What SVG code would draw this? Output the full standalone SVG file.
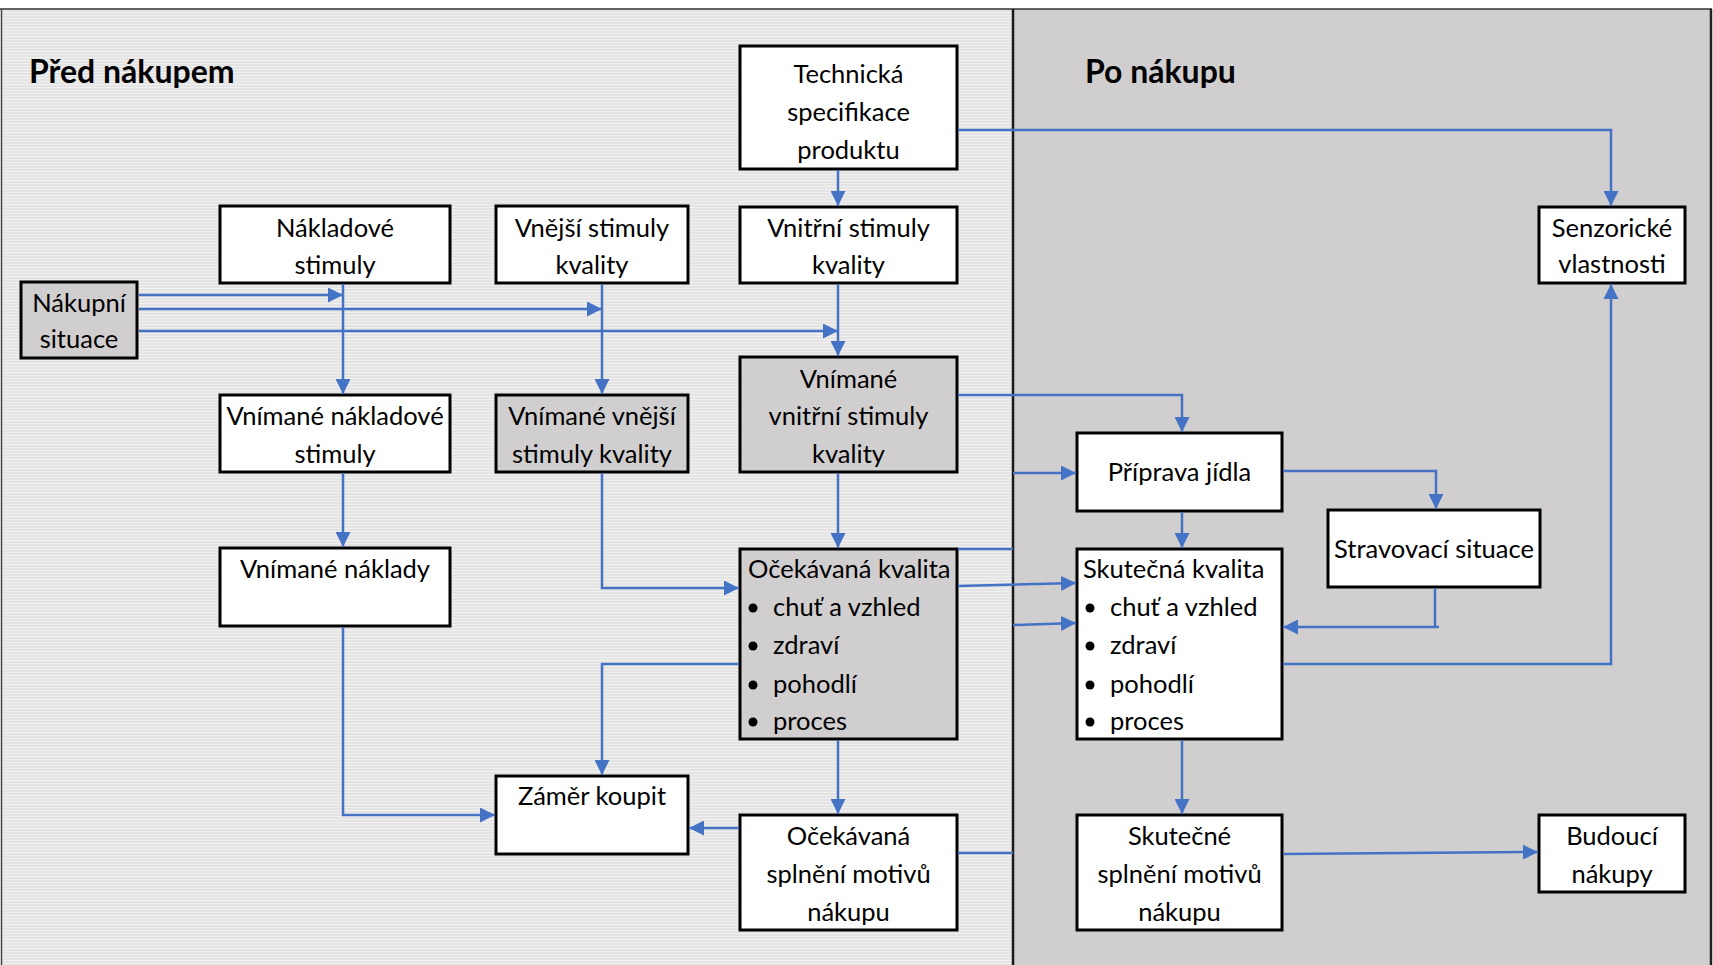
<svg xmlns="http://www.w3.org/2000/svg" width="1713" height="965" viewBox="0 0 1713 965">
<defs>
<pattern id="stripes" patternUnits="userSpaceOnUse" width="6" height="3">
<rect width="6" height="3" fill="#e4e4e4"/>
<rect width="6" height="1" fill="#f0f0f0"/>
</pattern>
<marker id="arr" markerUnits="userSpaceOnUse" markerWidth="15" markerHeight="15" refX="15" refY="7.5" orient="auto">
<path d="M0,0 L15,7.5 L0,15 z" fill="#4472c4"/>
</marker>
</defs>
<style>
.box{stroke:#000;stroke-width:3;fill:#fff}
.grey{fill:#d0cece}
.t{font-family:Lato,"Liberation Sans",sans-serif;font-size:25.5px;fill:#000}
.c{text-anchor:middle}
.h{font-family:Lato,"Liberation Sans",sans-serif;font-size:32px;font-weight:bold;fill:#000}
.con path{fill:none;stroke:#4472c4;stroke-width:2.5}
.dot{fill:#000}
</style>
<rect x="0" y="0" width="1713" height="965" fill="#fff"/>
<g id="panels">
<rect x="1.5" y="9" width="1011.5" height="956" fill="url(#stripes)"/>
<rect x="1013" y="9" width="698" height="956" fill="#d0cece"/>
<line x1="0" y1="9" x2="1712" y2="9" stroke="#333" stroke-width="1.5"/>
<line x1="1.5" y1="9" x2="1.5" y2="965" stroke="#444" stroke-width="1.5"/>
<line x1="1711" y1="9" x2="1711" y2="965" stroke="#222" stroke-width="2.5"/>
<line x1="1013" y1="9" x2="1013" y2="965" stroke="#1a1a1a" stroke-width="2.5"/>
<text class="h" x="29" y="83">Před nákupem</text>
<text class="h" x="1085" y="83">Po nákupu</text>
</g>
<g id="nakupni-situace">
<rect class="box grey" x="21" y="282" width="116" height="76"/>
<text class="t c" x="79" y="312">Nákupní</text>
<text class="t c" x="79" y="348">situace</text>
</g>
<g id="nakladove-stimuly">
<rect class="box" x="220" y="206" width="230" height="77"/>
<text class="t c" x="335" y="237">Nákladové</text>
<text class="t c" x="335" y="274">stimuly</text>
</g>
<g id="vnejsi-stimuly">
<rect class="box" x="496" y="206" width="192" height="77"/>
<text class="t c" x="592" y="237">Vnější stimuly</text>
<text class="t c" x="592" y="274">kvality</text>
</g>
<g id="technicka-specifikace">
<rect class="box" x="740" y="46" width="217" height="123"/>
<text class="t c" x="848.5" y="83">Technická</text>
<text class="t c" x="848.5" y="121">specifikace</text>
<text class="t c" x="848.5" y="159">produktu</text>
</g>
<g id="vnitrni-stimuly">
<rect class="box" x="740" y="207" width="217" height="76"/>
<text class="t c" x="848.5" y="237">Vnitřní stimuly</text>
<text class="t c" x="848.5" y="274">kvality</text>
</g>
<g id="senzoricke-vlastnosti">
<rect class="box" x="1539" y="207" width="146" height="76"/>
<text class="t c" x="1612" y="237">Senzorické</text>
<text class="t c" x="1612" y="273">vlastnosti</text>
</g>
<g id="vnimane-nakladove-stimuly">
<rect class="box" x="220" y="395" width="230" height="77"/>
<text class="t c" x="335" y="425">Vnímané nákladové</text>
<text class="t c" x="335" y="463">stimuly</text>
</g>
<g id="vnimane-vnejsi-stimuly">
<rect class="box grey" x="496" y="395" width="192" height="77"/>
<text class="t c" x="592" y="425">Vnímané vnější</text>
<text class="t c" x="592" y="463">stimuly kvality</text>
</g>
<g id="vnimane-vnitrni-stimuly">
<rect class="box grey" x="740" y="357" width="217" height="115"/>
<text class="t c" x="848.5" y="388">Vnímané</text>
<text class="t c" x="848.5" y="425">vnitřní stimuly</text>
<text class="t c" x="848.5" y="463">kvality</text>
</g>
<g id="vnimane-naklady">
<rect class="box" x="220" y="548" width="230" height="78"/>
<text class="t c" x="335" y="578">Vnímané náklady</text>
</g>
<g id="ocekavana-kvalita">
<rect class="box grey" x="740" y="549" width="217" height="190"/>
<text class="t" x="748" y="578">Očekávaná kvalita</text>
<circle class="dot" cx="753" cy="608" r="4.5"/>
<circle class="dot" cx="753" cy="646" r="4.5"/>
<circle class="dot" cx="753" cy="685" r="4.5"/>
<circle class="dot" cx="753" cy="722" r="4.5"/>
<text class="t" x="773" y="616">chuť a vzhled</text>
<text class="t" x="773" y="654">zdraví</text>
<text class="t" x="773" y="693">pohodlí</text>
<text class="t" x="773" y="730">proces</text>
</g>
<g id="zamer-koupit">
<rect class="box" x="496" y="776" width="192" height="78"/>
<text class="t c" x="592" y="805">Záměr koupit</text>
</g>
<g id="ocekavana-splneni">
<rect class="box" x="740" y="815" width="217" height="115"/>
<text class="t c" x="848.5" y="845">Očekávaná</text>
<text class="t c" x="848.5" y="883">splnění motivů</text>
<text class="t c" x="848.5" y="921">nákupu</text>
</g>
<g id="priprava-jidla">
<rect class="box" x="1077" y="433" width="205" height="78"/>
<text class="t c" x="1179.5" y="481">Příprava jídla</text>
</g>
<g id="stravovaci-situace">
<rect class="box" x="1328" y="510" width="212" height="77"/>
<text class="t c" x="1434" y="558">Stravovací situace</text>
</g>
<g id="skutecna-kvalita">
<rect class="box" x="1077" y="549" width="205" height="190"/>
<text class="t" x="1083" y="578">Skutečná kvalita</text>
<circle class="dot" cx="1090" cy="608" r="4.5"/>
<circle class="dot" cx="1090" cy="646" r="4.5"/>
<circle class="dot" cx="1090" cy="685" r="4.5"/>
<circle class="dot" cx="1090" cy="722" r="4.5"/>
<text class="t" x="1110" y="616">chuť a vzhled</text>
<text class="t" x="1110" y="654">zdraví</text>
<text class="t" x="1110" y="693">pohodlí</text>
<text class="t" x="1110" y="730">proces</text>
</g>
<g id="skutecne-splneni">
<rect class="box" x="1077" y="815" width="205" height="115"/>
<text class="t c" x="1179.5" y="845">Skutečné</text>
<text class="t c" x="1179.5" y="883">splnění motivů</text>
<text class="t c" x="1179.5" y="921">nákupu</text>
</g>
<g id="budouci-nakupy">
<rect class="box" x="1539" y="815" width="146" height="77"/>
<text class="t c" x="1612" y="845">Budoucí</text>
<text class="t c" x="1612" y="883">nákupy</text>
</g>
<g id="connectors" class="con">
<path d="M139,295 H343" marker-end="url(#arr)"/>
<path d="M139,309 H602" marker-end="url(#arr)"/>
<path d="M139,331 H838" marker-end="url(#arr)"/>
<path d="M343,284 V394" marker-end="url(#arr)"/>
<path d="M602,284 V394" marker-end="url(#arr)"/>
<path d="M838,170 V206" marker-end="url(#arr)"/>
<path d="M838,284 V356" marker-end="url(#arr)"/>
<path d="M343,473 V547" marker-end="url(#arr)"/>
<path d="M343,627 V815 H495" marker-end="url(#arr)"/>
<path d="M602,473 V588 H739" marker-end="url(#arr)"/>
<path d="M739,664 H602 V775" marker-end="url(#arr)"/>
<path d="M838,473 V548" marker-end="url(#arr)"/>
<path d="M838,740 V814" marker-end="url(#arr)"/>
<path d="M739,828 H689" marker-end="url(#arr)"/>
<path d="M958,853 H1013"/>
<path d="M958,549 H1013"/>
<path d="M958,586 L1076,583" marker-end="url(#arr)"/>
<path d="M1013,625 L1076,623" marker-end="url(#arr)"/>
<path d="M1013,473 H1076" marker-end="url(#arr)"/>
<path d="M958,395 H1182 V432" marker-end="url(#arr)"/>
<path d="M1283,471 H1436 V509" marker-end="url(#arr)"/>
<path d="M1182,512 V548" marker-end="url(#arr)"/>
<path d="M1435,588 V627"/>
<path d="M1439,627 H1283" marker-end="url(#arr)"/>
<path d="M1283,664 H1611 V284" marker-end="url(#arr)"/>
<path d="M958,130 H1611 V206" marker-end="url(#arr)"/>
<path d="M1182,740 V814" marker-end="url(#arr)"/>
<path d="M1283,854 L1538,852" marker-end="url(#arr)"/>
</g>
</svg>
